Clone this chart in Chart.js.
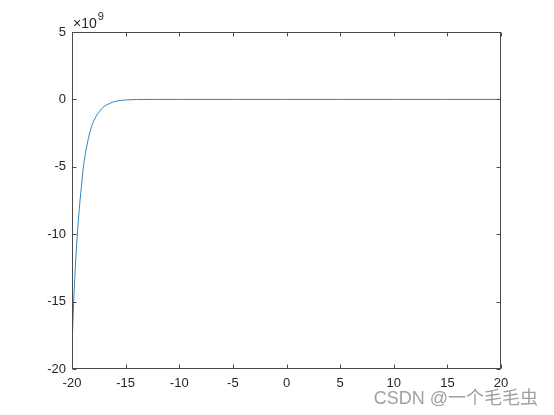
<!DOCTYPE html>
<html>
<head>
<meta charset="utf-8">
<script src="https://cdn.jsdelivr.net/npm/chart.js@4"></script>
<style>
  body { margin: 0; background: #fff; }
</style>
</head>
<body>
<canvas id="curva" width="554" height="415"></canvas>
<script>
// datos (y en unidades de 1e9)
const xs = [-20, -19.9, -19.8, -19.7, -19.6, -19.5, -19.4, -19.25, -19.1, -18.95, -18.75, -18.5, -18.25, -18, -17.75, -17.5, -17.25, -17, -16.5, -16, -15.5, -15, -14, -12, -10, -5, 0, 5, 10, 15, 20];
const ys = [-18.3, -16.2, -14.2, -12.6, -11.2, -10.0, -8.9, -7.5, -6.3, -5.1, -4.0, -3.0, -2.2, -1.65, -1.25, -0.95, -0.7, -0.52, -0.3, -0.16, -0.08, -0.04, -0.01, 0, 0, 0, 0, 0, 0, 0, 0];
const xTicks = [-20, -15, -10, -5, 0, 5, 10, 15, 20];
const yTicks = [-20, -15, -10, -5, 0, 5];
const exponente = '9';
const marca = 'CSDN @一个毛毛虫';

const fuente = '"Liberation Sans", Arial, Helvetica, sans-serif';
const ejeColor = '#4a4a4a';

// caja, ticks hacia adentro, exponente y marca de agua
const caja = {
  id: 'caja',
  afterDraw(chart) {
    const ctx = chart.ctx;
    const a = chart.chartArea;
    const sx = chart.scales.x, sy = chart.scales.y;
    const L = Math.round(a.left) + 0.5, R = Math.round(a.right) - 0.5;
    const T = Math.round(a.top) + 0.5, B = Math.round(a.bottom) - 0.5;
    ctx.save();
    ctx.strokeStyle = ejeColor;
    ctx.lineWidth = 1;
    ctx.strokeRect(L, T, R - L, B - T);
    ctx.beginPath();
    xTicks.forEach(v => {
      const px = Math.round(sx.getPixelForValue(v)) + 0.5;
      ctx.moveTo(px, B); ctx.lineTo(px, B - 4);
      ctx.moveTo(px, T); ctx.lineTo(px, T + 4);
    });
    yTicks.forEach(v => {
      const py = Math.round(sy.getPixelForValue(v)) + 0.5;
      ctx.moveTo(L, py); ctx.lineTo(L + 4, py);
      ctx.moveTo(R, py); ctx.lineTo(R - 4, py);
    });
    ctx.stroke();

    // x10^9
    ctx.fillStyle = '#262626';
    ctx.textBaseline = 'alphabetic';
    ctx.textAlign = 'left';
    ctx.font = '14px ' + fuente;
    ctx.fillText('×10', a.left + 1, a.top - 4);
    const w = ctx.measureText('×10').width;
    ctx.font = '11px ' + fuente;
    ctx.fillText(exponente, a.left + 1 + w + 1, a.top - 12);

    // marca de agua
    ctx.font = '18px ' + fuente + ', "Noto Sans CJK SC"';
    ctx.textAlign = 'right';
    ctx.fillStyle = 'rgba(150,150,150,0.9)';
    ctx.fillText(marca, 538, 404);
    ctx.restore();
  }
};

new Chart(document.getElementById('curva'), {
  type: 'scatter',
  data: {
    datasets: [{
      data: xs.map((x, i) => ({ x: x, y: ys[i] })),
      showLine: true,
      borderColor: '#2f83bd',
      borderWidth: 1,
      pointRadius: 0,
      cubicInterpolationMode: 'monotone',
      fill: false
    }]
  },
  options: {
    responsive: false,
    animation: false,
    devicePixelRatio: 1,
    layout: { padding: { left: 0, top: 32, right: 53, bottom: 0 } },
    plugins: { legend: { display: false }, tooltip: { enabled: false } },
    scales: {
      x: {
        type: 'linear',
        min: -20,
        max: 20,
        afterBuildTicks: s => { s.ticks = xTicks.map(v => ({ value: v })); },
        afterFit: s => { s.height = 46; },
        grid: { display: false, drawTicks: false },
        border: { display: false },
        ticks: { color: '#262626', font: { size: 13, family: fuente }, padding: 7, maxRotation: 0 }
      },
      y: {
        min: -20,
        max: 5,
        afterBuildTicks: s => { s.ticks = yTicks.map(v => ({ value: v })); },
        afterFit: s => { s.width = 72; },
        grid: { display: false, drawTicks: false },
        border: { display: false },
        ticks: { color: '#262626', font: { size: 13, family: fuente }, padding: 6 }
      }
    }
  },
  plugins: [caja]
});
</script>
</body>
</html>
